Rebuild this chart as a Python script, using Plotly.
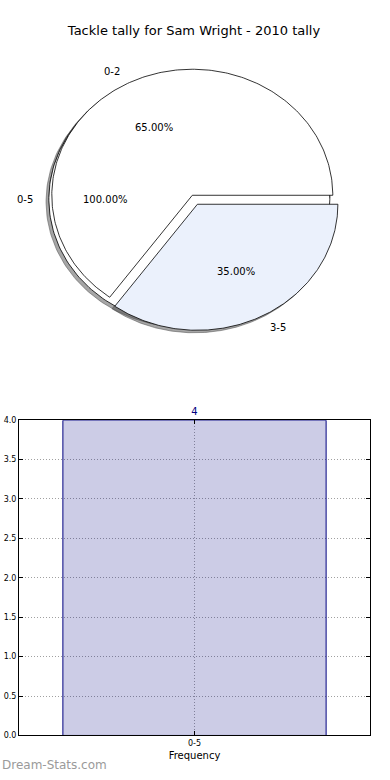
import numpy as np
import plotly.graph_objects as go

# ---------------- data ----------------
chart_title = "Tackle tally for Sam Wright - 2010 tally"

outer_labels = ["0-5"]
outer_values = [100.0]

inner_labels = ["0-2", "3-5"]
inner_values = [65.0, 35.0]

bar_categories = ["0-5"]
bar_values = [4]
bar_axis_label = "Frequency"
y_tick_values = [0.0, 0.5, 1.0, 1.5, 2.0, 2.5, 3.0, 3.5, 4.0]
watermark = "Dream-Stats.com"

# ---------------- styles ----------------
FONT = "DejaVu Sans"
outer_colors = ["#ffffff"]
inner_colors = ["#ffffff", "#ebf1fc"]
inner_explode = [0.0, 0.08]
outer_center = (-0.021, -0.031)
inner_center = (0.0, 0.0)
shadow_offset = (-0.02, -0.02)
label_dist = 1.1
pct_dist = 0.6

W, H = 390, 780


def px_x(p):
    return p / W


def px_y(p):
    return 1 - p / H


fig = go.Figure()


def wedge_geometry(values, center, explode):
    total = float(sum(values))
    out = []
    start = 0.0
    for v, e in zip(values, explode):
        span = 360.0 * v / total
        t1, t2 = start, start + span
        mid = np.deg2rad((t1 + t2) / 2.0)
        cx = center[0] + e * np.cos(mid)
        cy = center[1] + e * np.sin(mid)
        out.append((t1, t2, cx, cy, mid, v / total))
        start = t2
    return out


def wedge_path(t1, t2, cx, cy):
    th = np.deg2rad(np.linspace(t1, t2, 240))
    xs = cx + np.cos(th)
    ys = cy + np.sin(th)
    if t2 - t1 < 359.999:
        xs = np.concatenate([[cx], xs, [cx]])
        ys = np.concatenate([[cy], ys, [cy]])
    else:
        xs = np.concatenate([xs, [xs[0]]])
        ys = np.concatenate([ys, [ys[0]]])
    return xs, ys


outer = wedge_geometry(outer_values, outer_center, [0.0] * len(outer_values))
inner = wedge_geometry(inner_values, inner_center, inner_explode)

# shadows first (lower z-order)
for geo in outer + inner:
    t1, t2, cx, cy, mid, frac = geo
    xs, ys = wedge_path(t1, t2, cx + shadow_offset[0], cy + shadow_offset[1])
    fig.add_trace(go.Scatter(x=xs, y=ys, mode="lines", fill="toself",
                             fillcolor="rgba(77,77,77,0.5)",
                             line=dict(color="rgba(77,77,77,0.5)", width=1),
                             hoverinfo="skip", showlegend=False,
                             xaxis="x", yaxis="y"))

# wedges
for geos, cols in ((outer, outer_colors), (inner, inner_colors)):
    for geo, col in zip(geos, cols):
        t1, t2, cx, cy, mid, frac = geo
        xs, ys = wedge_path(t1, t2, cx, cy)
        fig.add_trace(go.Scatter(x=xs, y=ys, mode="lines", fill="toself",
                                 fillcolor=col,
                                 line=dict(color="#000000", width=0.8),
                                 hoverinfo="skip", showlegend=False,
                                 xaxis="x", yaxis="y"))

annotations = []
for geos, labels in ((outer, outer_labels), (inner, inner_labels)):
    for geo, lab in zip(geos, labels):
        t1, t2, cx, cy, mid, frac = geo
        lx = cx + label_dist * np.cos(mid)
        ly = cy + label_dist * np.sin(mid)
        annotations.append(dict(x=lx, y=ly, xref="x", yref="y", text=lab,
                                showarrow=False,
                                xanchor="right" if np.cos(mid) < 0 else "left",
                                yanchor="middle",
                                font=dict(family=FONT, size=10, color="#000")))
        px = cx + pct_dist * np.cos(mid)
        py = cy + pct_dist * np.sin(mid)
        annotations.append(dict(x=px, y=py, xref="x", yref="y",
                                text="%.2f%%" % (frac * 100),
                                showarrow=False, xanchor="center", yanchor="middle",
                                font=dict(family=FONT, size=10, color="#000")))

# ---------------- bar chart ----------------
fig.add_trace(go.Bar(x=bar_categories, y=bar_values, width=0.75,
                     marker=dict(color="rgba(0,0,128,0.2)",
                                 line=dict(color="#000080", width=1)),
                     text=[str(v) for v in bar_values], textposition="outside",
                     textfont=dict(family=FONT, size=10, color="#000080"),
                     cliponaxis=False, hoverinfo="skip", showlegend=False,
                     xaxis="x2", yaxis="y2"))

annotations.append(dict(x=px_x(0), y=px_y(770), xref="paper", yref="paper",
                        text=watermark, showarrow=False, xanchor="left",
                        yanchor="middle",
                        font=dict(family=FONT, size=12, color="#9a9a9a")))

# pie placement in reference pixel coordinates
cxp, cyp, rx, ry = 192.3, 193.5, 140.5, 127.5
pie_top, pie_bot = 0, 390

GRID_DASH = "1px,2px"

fig.update_layout(
    width=W, height=H,
    margin=dict(l=0, r=0, t=0, b=0),
    paper_bgcolor="white", plot_bgcolor="white",
    title=dict(text=chart_title, x=px_x(194), xanchor="center",
               y=px_y(30), yanchor="middle",
               font=dict(family=FONT, size=13, color="#000")),
    xaxis=dict(domain=[0, 1], range=[(0 - cxp) / rx, (W - cxp) / rx],
               visible=False, fixedrange=True),
    yaxis=dict(domain=[px_y(pie_bot), 1],
               range=[(cyp - pie_bot) / ry, (cyp - pie_top) / ry],
               visible=False, fixedrange=True),
    xaxis2=dict(domain=[px_x(19), px_x(370)], anchor="y2", type="category",
                range=[-0.5, 0.5],
                showline=True, linecolor="#000", linewidth=1, mirror="ticks",
                ticks="inside", ticklen=4, tickcolor="#000",
                showgrid=True, gridcolor="#a0a0a0", griddash=GRID_DASH, gridwidth=1,
                tickfont=dict(family=FONT, size=8, color="#000"),
                title=dict(text=bar_axis_label, standoff=4,
                           font=dict(family=FONT, size=10, color="#000")),
                zeroline=False, fixedrange=True),
    yaxis2=dict(domain=[px_y(740), px_y(421)], anchor="x2",
                range=[0, 4], tickvals=y_tick_values, tickformat=".1f",
                showline=True, linecolor="#000", linewidth=1, mirror="ticks",
                ticks="inside", ticklen=4, tickcolor="#000",
                showgrid=True, gridcolor="#a0a0a0", griddash=GRID_DASH, gridwidth=1,
                tickfont=dict(family=FONT, size=8, color="#000"),
                zeroline=False, fixedrange=True),
    annotations=annotations,
    bargap=0,
)

fig.write_html(
    "out.html",
    config={"displayModeBar": False, "staticPlot": True},
    post_script=(
        "document.body.style.margin='0';document.body.style.padding='0';"
        "document.body.style.overflow='hidden';"
        "document.documentElement.style.overflow='hidden';"
    ),
)
